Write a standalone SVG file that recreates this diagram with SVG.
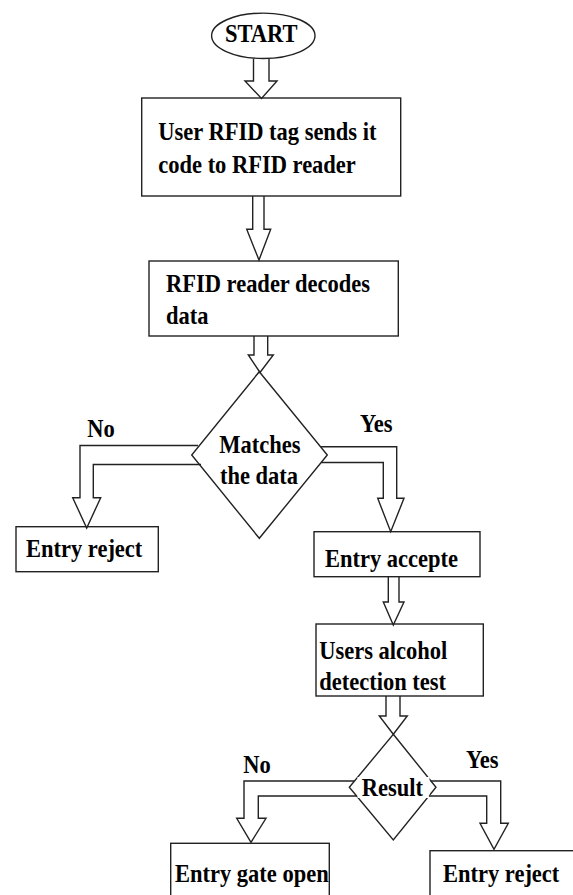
<svg xmlns="http://www.w3.org/2000/svg" width="573" height="895" viewBox="0 0 573 895">
<style>
.shape{fill:#fff;stroke:#222;stroke-width:1.4}
.arr{fill:none;stroke:#222;stroke-width:1.4;stroke-linejoin:miter}
.t{font-family:"Liberation Serif","Times New Roman",serif;font-weight:bold;font-size:25px;fill:#000}
</style>
<rect width="573" height="895" fill="#fff"/>
<g id="start">
<ellipse class="shape" cx="263.3" cy="35.8" rx="51.7" ry="22.7"/>
<text class="t" transform="translate(225 42) scale(0.9 1)">START</text>
</g>
<g id="tag">
<rect class="shape" x="141.7" y="98" width="259" height="98"/>
<text class="t" transform="translate(158.3 140) scale(0.9 1)">User RFID tag sends it</text>
<text class="t" transform="translate(158.3 172.7) scale(0.9 1)">code to RFID reader</text>
</g>
<g id="decode">
<rect class="shape" x="149" y="261" width="249.3" height="75"/>
<text class="t" transform="translate(166 291.7) scale(0.9 1)">RFID reader decodes</text>
<text class="t" transform="translate(166 324) scale(0.9 1)">data</text>
</g>
<g id="match">
<polygon class="shape" points="259.3,371.7 327.3,455 259.3,538.3 191.7,455"/>
<text class="t" transform="translate(219.3 453.3) scale(0.9 1)">Matches</text>
<text class="t" transform="translate(220 484.3) scale(0.9 1)">the data</text>
</g>
<g id="reject1">
<rect class="shape" x="16" y="526.7" width="142.3" height="45"/>
<text class="t" transform="translate(26 557.3) scale(0.9 1)">Entry reject</text>
</g>
<g id="accept">
<rect class="shape" x="314" y="531.7" width="166" height="45"/>
<text class="t" transform="translate(325 566.7) scale(0.9 1)">Entry accepte</text>
</g>
<g id="alcohol">
<rect class="shape" x="316" y="624" width="167.3" height="72"/>
<text class="t" transform="translate(319.3 659) scale(0.9 1)">Users alcohol</text>
<text class="t" transform="translate(319.3 690) scale(0.9 1)">detection test</text>
</g>
<g id="result">
<polygon class="shape" points="393.3,734.3 436,787.3 393.3,840 349.3,787.3"/>
<rect x="357.5" y="777" width="72" height="21" fill="#fff"/>
<text class="t" transform="translate(361.7 795.7) scale(0.9 1)">Result</text>
</g>
<g id="gate">
<rect class="shape" x="170.7" y="843.3" width="158.6" height="70"/>
<text class="t" transform="translate(175 881.7) scale(0.9 1)">Entry gate open</text>
</g>
<g id="reject2">
<rect class="shape" x="430" y="850.7" width="160" height="70"/>
<text class="t" transform="translate(443 881.7) scale(0.9 1)">Entry reject</text>
</g>
<g id="connectors">
<path class="arr" d="M253.5,59 V81 H245 L261.5,98.5 L277,81 H269 V59"/>
<path class="arr" d="M252.7,196 V229.3 H246.7 L259,260 L270.7,229.3 H264 V196"/>
<path class="arr" d="M254,336 V355 H248.3 L260,372.5 L273.3,355 H267.7 V336"/>
<path class="arr" d="M198,445.5 H80 V497.7 H72.7 L86.7,528 L100.7,497.7 H93.3 V464.5 H201"/>
<path class="arr" d="M321,446.7 H396.7 V498.3 H404 L390.7,531.7 L377.7,498.3 H383.3 V462.5 H321.2"/>
<path class="arr" d="M388.3,576.7 V602 H383.3 L393.3,625 L404,602 H399 V576.7"/>
<path class="arr" d="M386,696 V716 H379.3 L393.3,734.3 L407.3,716 H400 V696"/>
<path class="arr" d="M354.5,781 H244 V818.3 H236.7 L251,842.3 L266,818.3 H258.3 V796 H356.5"/>
<path class="arr" d="M430.8,781 H500.7 V823.3 H508.3 L494,849.3 L480,823.3 H486.7 V796 H428.9"/>
</g>
<g id="labels">
<text class="t" transform="translate(87.3 436.7) scale(0.9 1)">No</text>
<text class="t" transform="translate(360 432.3) scale(0.9 1)">Yes</text>
<text class="t" transform="translate(243.3 772.7) scale(0.9 1)">No</text>
<text class="t" transform="translate(466 768.3) scale(0.9 1)">Yes</text>
</g>
</svg>
